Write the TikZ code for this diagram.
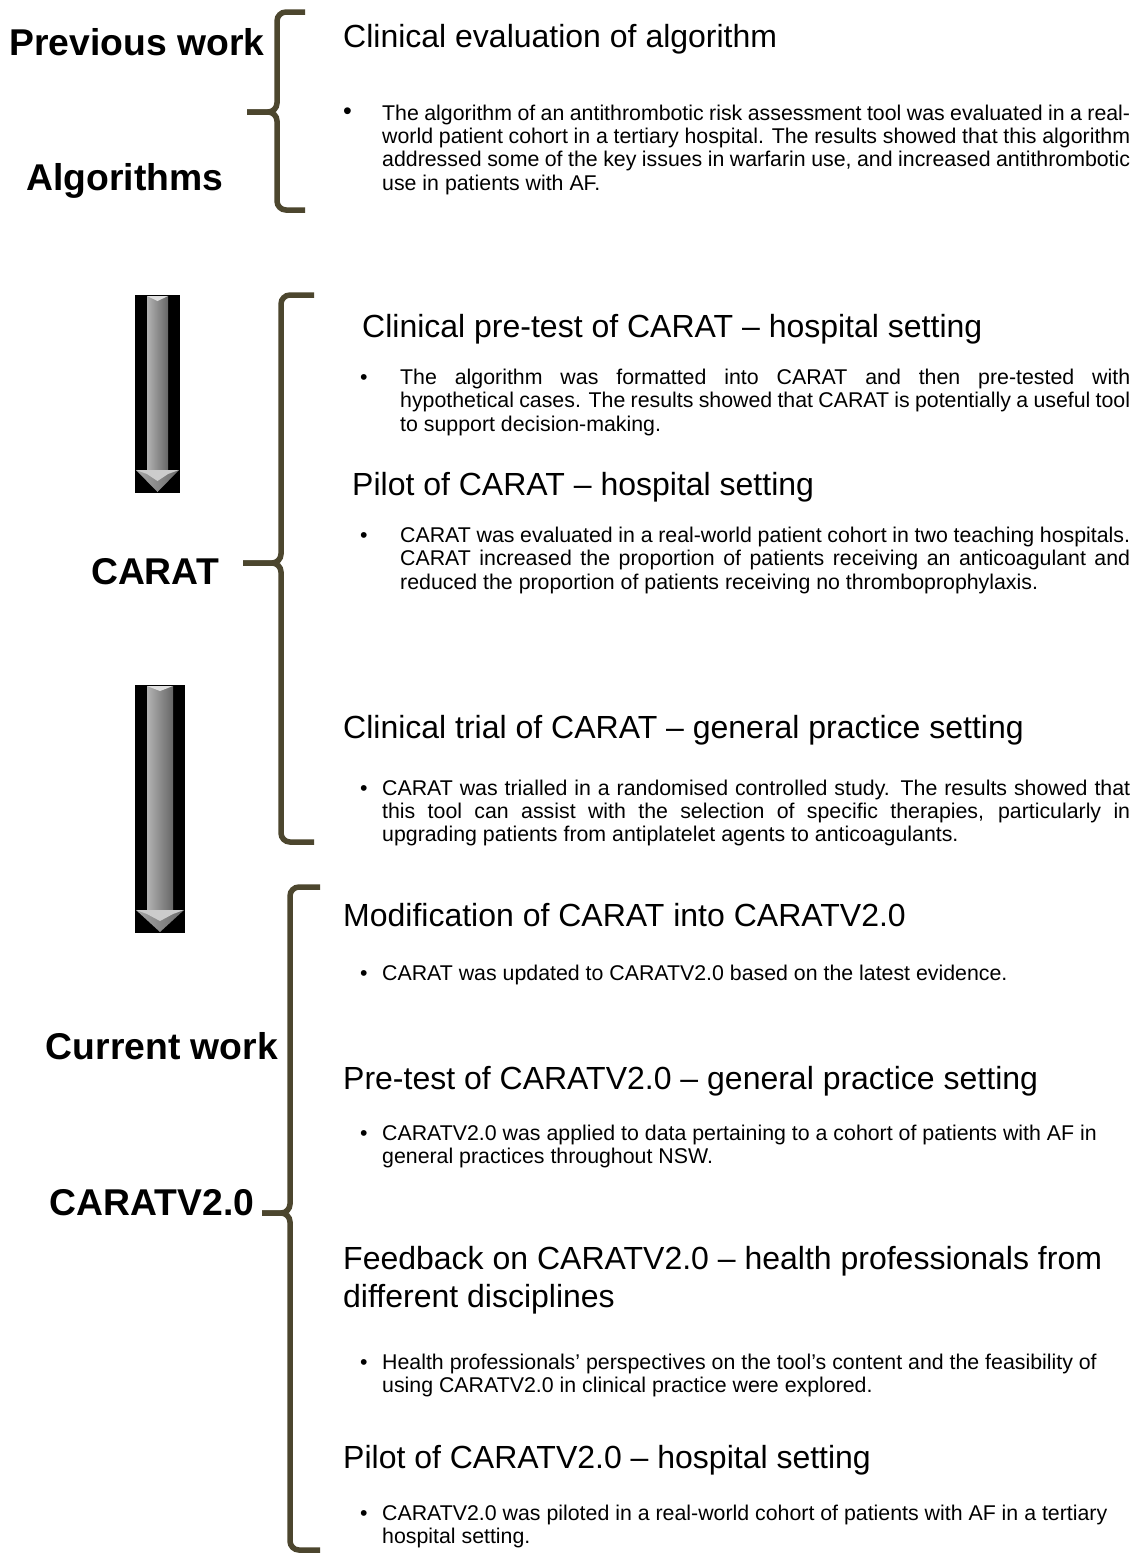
\documentclass[tikz,border=0pt]{standalone}
\usepackage{fontspec}
\setmainfont{Liberation Sans}
\definecolor{brk}{RGB}{76,70,46}
\newcommand{\hdfont}{\fontsize{32}{38}\selectfont}
\newcommand{\bdfont}{\fontsize{21.33}{23.4}\selectfont}
\newcommand{\lbfont}{\fontsize{37.3}{42}\selectfont\bfseries}
% one justified line of a given width
\newcommand{\jl}[2]{\makebox[#1][s]{\spaceskip=0pt\xspaceskip=0pt #2}}
% black panel with a bevelled grey arrow pointing down: left, right, top, bottom
\newcommand{\grayarrow}[4]{%
  \fill[black] (#1,#3) rectangle (#2,#4);
  \shade[left color=black!30, middle color=black!27, right color=black!60]
    ({#1+12},{#3+1}) -- ({#2-12},{#3+1}) -- ({#2-12},{#4-21}) -- ({#1+12},{#4-21}) -- cycle;
  \fill[black!12] ({#1+12},{#3+1}) -- ({#2-12},{#3+1}) -- ({(#1+#2)/2},{#3+6}) -- cycle;
  \shade[left color=black!35, right color=black!58]
    ({#1+1},{#4-23}) -- ({#2-1},{#4-23}) -- ({(#1+#2)/2},{#4-1}) -- cycle;
  \fill[black!20] ({#1+1},{#4-23}) -- ({#2-1},{#4-23}) -- ({#2-12},{#4-19}) -- ({(#1+#2)/2},{#4-12}) -- ({#1+12},{#4-19}) -- cycle;
}
\begin{document}
\begin{tikzpicture}[x=1pt,y=-1pt,
  bracketline/.style={draw=brk,line width=5.5pt,rounded corners=9pt},
  tag/.style={font=\lbfont,anchor=base,inner sep=0},
  hdr/.style={font=\hdfont,anchor=base west,inner sep=0,text width=790pt,align=flush left},
  txt/.style={font=\bdfont,anchor=base west,inner sep=0,text width=#1,align=flush left},
  bul/.style={font=\bdfont,anchor=base west,inner sep=0}]
\useasboundingbox (0,0) rectangle (1142,1553);
\fill[white] (0,0) rectangle (1142,1553);

% ---------- side labels ----------
\node[tag] (prev) at (137,55) {Previous work};
\node[tag] (algo) at (125,190) {Algorithms};
\node[tag] (carat) at (155,584) {CARAT};
\node[tag] (curr) at (162,1059) {Current work};
\node[tag] (vtwo) at (152,1215) {CARATV2.0};

% ---------- brackets ----------
\draw[bracketline] (305,12) -- (277,12) -- (277,112) -- (247,112);
\draw[bracketline] (247,112) -- (277,112) -- (277,210) -- (305,210);

\draw[bracketline] (314,295) -- (281,295) -- (281,563) -- (243,563);
\draw[bracketline] (243,563) -- (281,563) -- (281,842) -- (314,842);

\draw[bracketline] (320,887) -- (290,887) -- (290,1213) -- (262,1213);
\draw[bracketline] (262,1213) -- (290,1213) -- (290,1550) -- (320,1550);

% ---------- progress arrows ----------
\grayarrow{135}{180}{295}{493}
\grayarrow{135}{185}{685}{933}

% ---------- previous work ----------
\node[hdr] (h1) at (343,47) {Clinical evaluation of algorithm};
\node[bul] (d1) at (343,119.5) {\fontsize{25}{25}\selectfont •};
\node[txt=748pt] (t1) at (382,120) {%
\jl{748pt}{The algorithm of an antithrombotic risk assessment tool was evaluated in a real-}\\
\jl{748pt}{world patient cohort in a tertiary hospital. The results showed that this algorithm}\\
\jl{748pt}{addressed some of the key issues in warfarin use, and increased antithrombotic}\\
use in patients with AF.};

% ---------- CARAT ----------
\node[hdr] (h2a) at (362,337.5) {Clinical pre-test of CARAT – hospital setting};
\node[bul] (d2a) at (360,384.5) {•};
\node[txt=730pt] (t2a) at (400,384.5) {%
\jl{730pt}{The algorithm was formatted into CARAT and then pre-tested with}\\
\jl{730pt}{hypothetical cases. The results showed that CARAT is potentially a useful tool}\\
to support decision-making.};

\node[hdr] (h2b) at (352,495.5) {Pilot of CARAT – hospital setting};
\node[bul] (d2b) at (360,542.5) {•};
\node[txt=730pt] (t2b) at (400,542.5) {%
\jl{730pt}{CARAT was evaluated in a real-world patient cohort in two teaching hospitals.}\\
\jl{730pt}{CARAT increased the proportion of patients receiving an anticoagulant and}\\
reduced the proportion of patients receiving no thromboprophylaxis.};

\node[hdr] (h2c) at (343,738) {Clinical trial of CARAT – general practice setting};
\node[bul] (d2c) at (360,795) {•};
\node[txt=748pt] (t2c) at (382,795) {%
\jl{748pt}{CARAT was trialled in a randomised controlled study. The results showed that}\\
\jl{748pt}{this tool can assist with the selection of specific therapies, particularly in}\\
upgrading patients from antiplatelet agents to anticoagulants.};

% ---------- CARATV2.0 ----------
\node[hdr] (h3a) at (343,926) {Modification of CARAT into CARATV2.0};
\node[bul] (d3a) at (360,980) {•};
\node[txt=760pt] (t3a) at (382,980) {CARAT was updated to CARATV2.0 based on the latest evidence.};

\node[hdr] (h3b) at (343,1089) {Pre-test of CARATV2.0 – general practice setting};
\node[bul] (d3b) at (360,1140) {•};
\node[txt=760pt] (t3b) at (382,1140) {CARATV2.0 was applied to data pertaining to a cohort of patients with AF in\\
general practices throughout NSW.};

\node[hdr] (h3c) at (343,1269.5) {Feedback on CARATV2.0 – health professionals from\\
different disciplines};
\node[bul] (d3c) at (360,1369.5) {•};
\node[txt=760pt] (t3c) at (382,1369.5) {Health professionals’ perspectives on the tool’s content and the feasibility of\\
using CARATV2.0 in clinical practice were explored.};

\node[hdr] (h3d) at (343,1468) {Pilot of CARATV2.0 – hospital setting};
\node[bul] (d3d) at (360,1520) {•};
\node[txt=760pt] (t3d) at (382,1520) {CARATV2.0 was piloted in a real-world cohort of patients with AF in a tertiary\\
hospital setting.};
\end{tikzpicture}
\end{document}
